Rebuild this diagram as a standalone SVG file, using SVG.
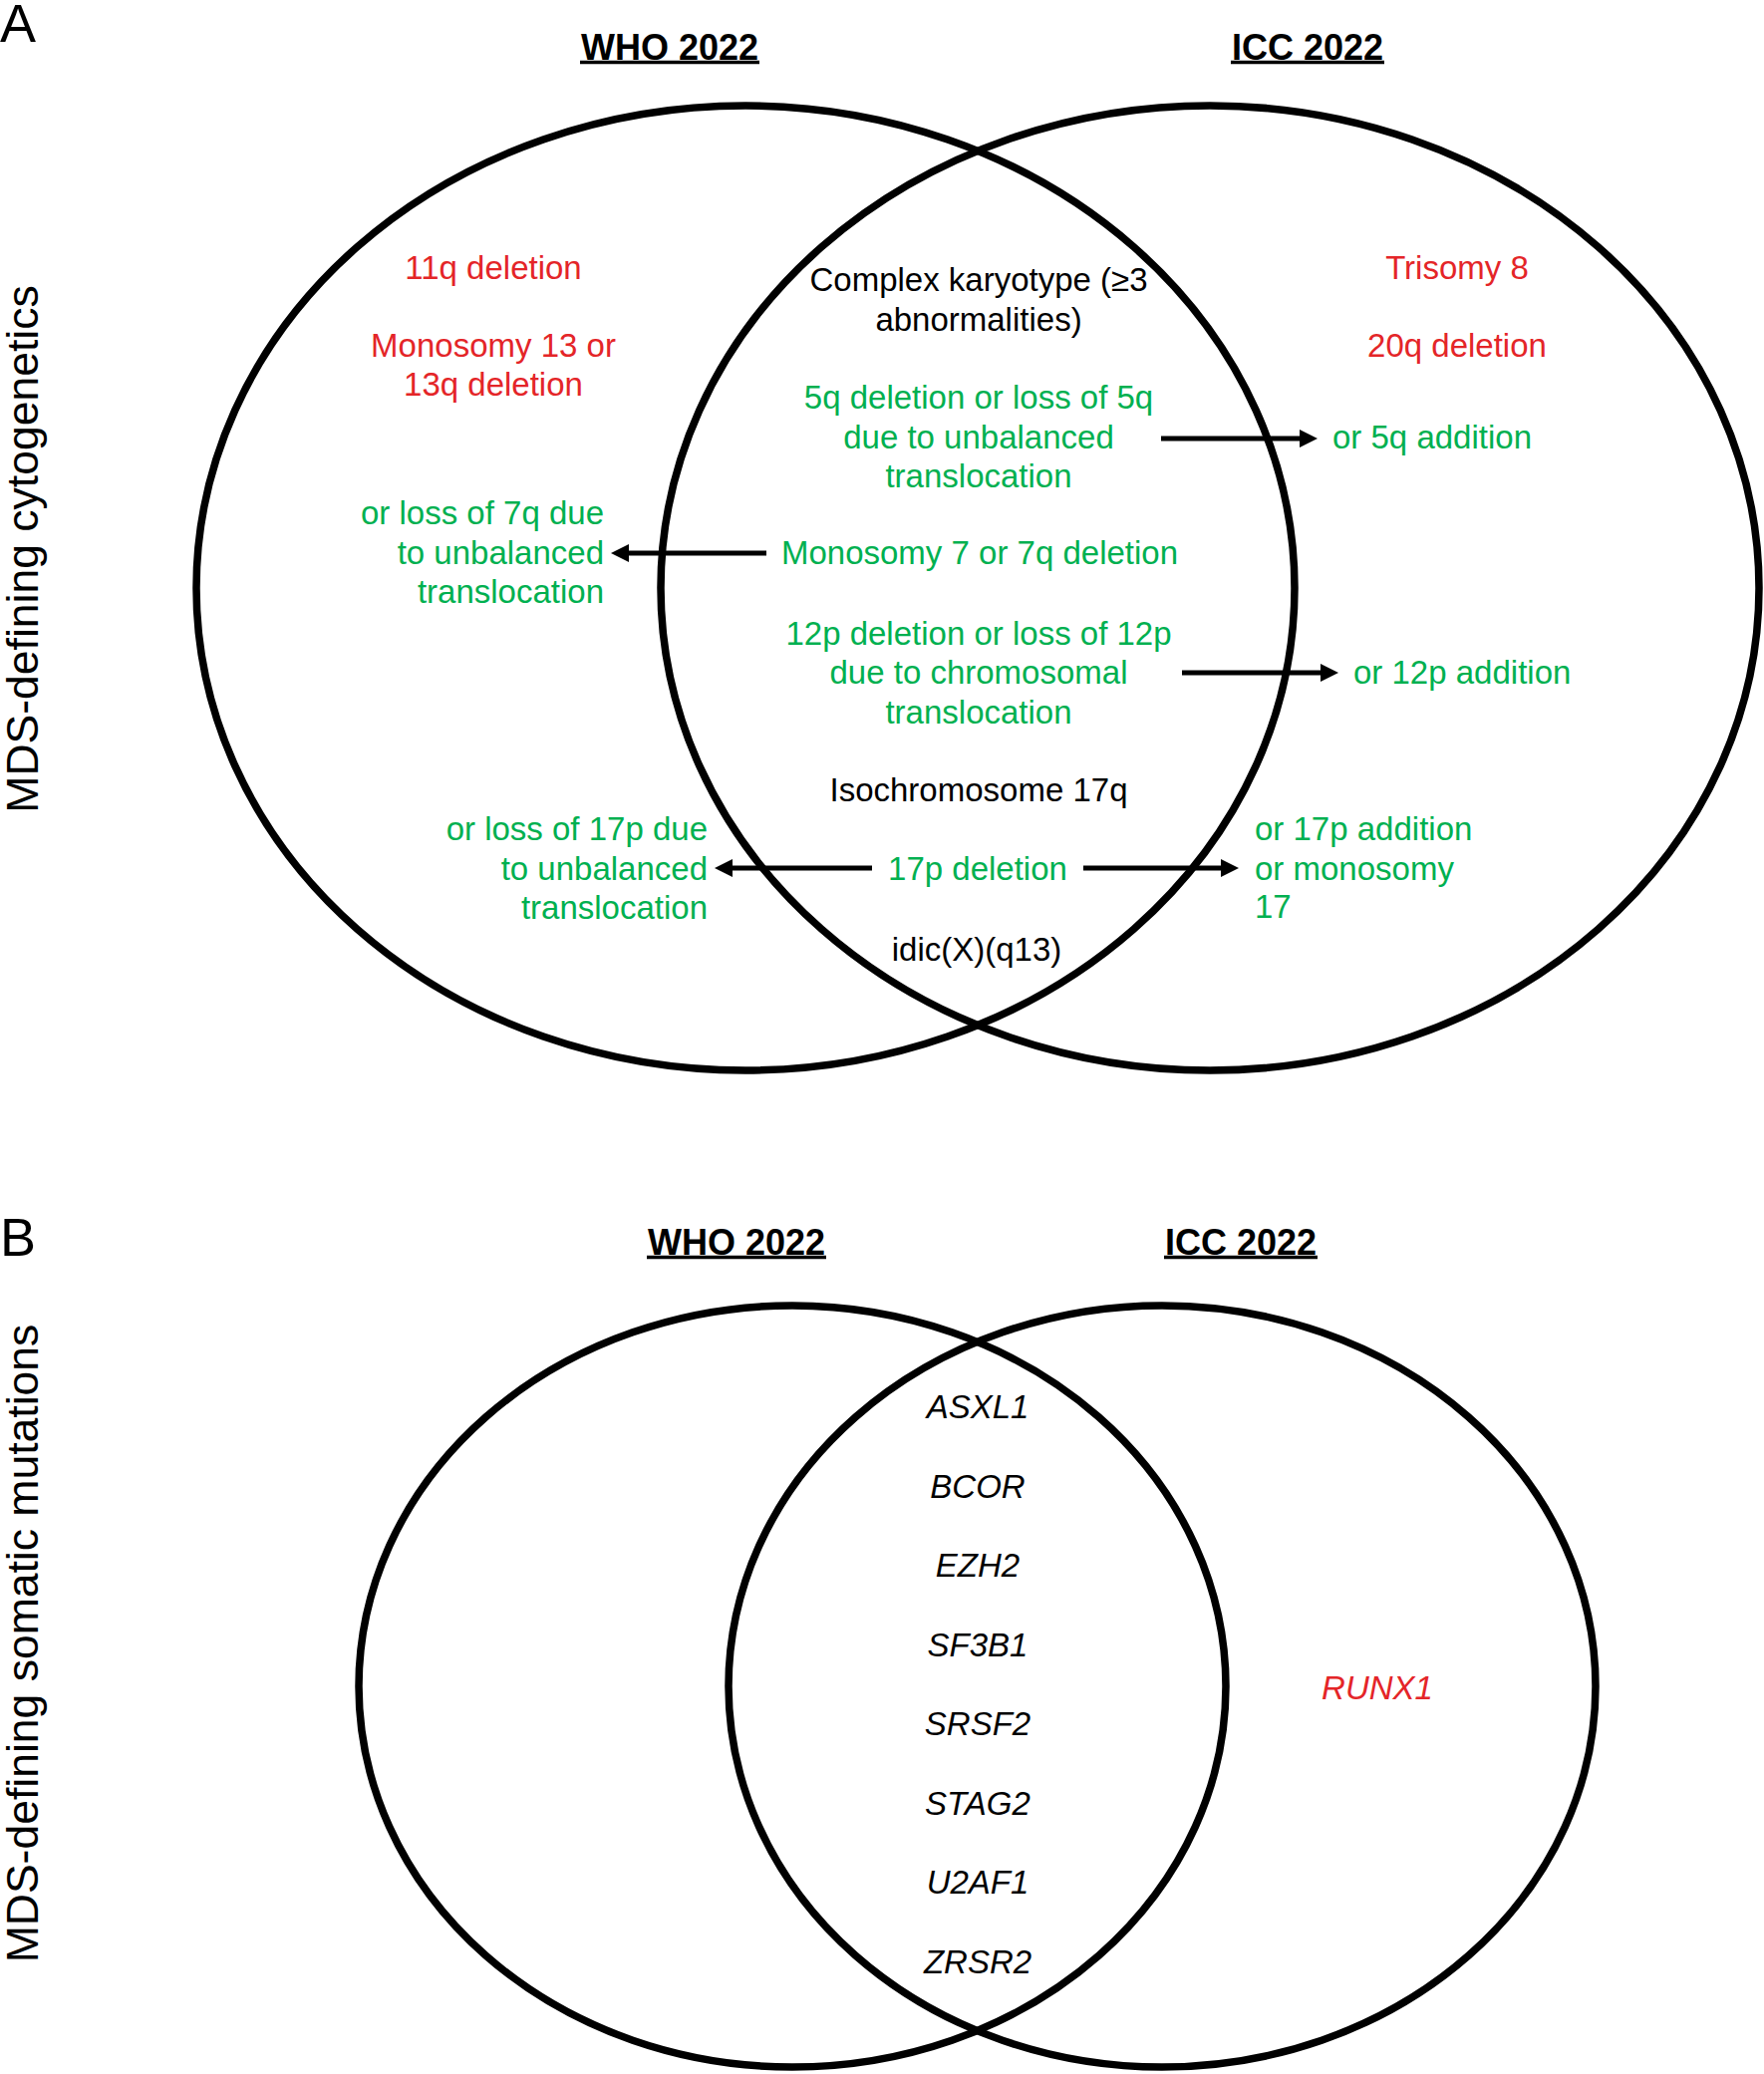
<svg xmlns="http://www.w3.org/2000/svg" width="1770" height="2081" viewBox="0 0 1770 2081">
<style>
text{font-family:"Liberation Sans",Arial,sans-serif;font-size:33px;}
.c{text-anchor:middle}
.r{text-anchor:end}
.l{text-anchor:start}
.red{fill:#E42528}
.grn{fill:#00B050}
.blk{fill:#000}
.it{font-style:italic}
.ttl{font-weight:bold;font-size:36px;text-anchor:middle}
.ul{stroke:#000;stroke-width:3.5}
.lbl{font-size:44.5px;text-anchor:middle}
.pl{font-size:54px}
.venn{fill:none;stroke:#000;stroke-width:7.5}
.arr{stroke:#000;stroke-width:5;fill:none;marker-end:url(#ah)}
</style>
<defs>
<marker id="ah" markerUnits="userSpaceOnUse" markerWidth="18" markerHeight="18" refX="8" refY="9" orient="auto">
<path d="M0,0 L18,9 L0,18 z" fill="#000"/>
</marker>
</defs>
<rect width="1770" height="2081" fill="#fff"/>

<g id="panelA-labels">
<text class="pl" x="0" y="42">A</text>
<text class="lbl" transform="translate(38,551) rotate(-90)">MDS-defining cytogenetics</text>
</g>

<g id="A-who">
<ellipse class="venn" cx="748" cy="590" rx="551" ry="484"/>
<text class="ttl" x="672" y="60">WHO 2022</text>
<line class="ul" x1="582" y1="62.5" x2="762" y2="62.5"/>
</g>
<g id="A-icc">
<ellipse class="venn" cx="1214" cy="590" rx="551" ry="484"/>
<text class="ttl" x="1312" y="60">ICC 2022</text>
<line class="ul" x1="1235" y1="62.5" x2="1389" y2="62.5"/>
</g>

<g id="A-who-only">
<text class="c red" x="495" y="280">11q deletion</text>
<text class="c red" x="495" y="358">Monosomy 13 or</text>
<text class="c red" x="495" y="397">13q deletion</text>
</g>
<g id="A-icc-only">
<text class="c red" x="1462" y="280">Trisomy 8</text>
<text class="c red" x="1462" y="358">20q deletion</text>
</g>

<g id="A-complex"><text class="c blk" x="982" y="292">Complex karyotype (≥3</text><text class="c blk" x="982" y="332">abnormalities)</text></g>
<g id="A-5q"><text class="c grn" x="982" y="410">5q deletion or loss of 5q</text><text class="c grn" x="982" y="450">due to unbalanced</text><text class="c grn" x="982" y="489">translocation</text></g>
<g id="A-5q-add"><text class="l grn" x="1337" y="450">or 5q addition</text></g>
<g id="A-mono7"><text class="c grn" x="983" y="566">Monosomy 7 or 7q deletion</text></g>
<g id="A-7q-loss"><text class="r grn" x="606" y="526">or loss of 7q due</text><text class="r grn" x="606" y="566">to unbalanced</text><text class="r grn" x="606" y="605">translocation</text></g>
<g id="A-12p"><text class="c grn" x="982" y="647">12p deletion or loss of 12p</text><text class="c grn" x="982" y="686">due to chromosomal</text><text class="c grn" x="982" y="726">translocation</text></g>
<g id="A-12p-add"><text class="l grn" x="1358" y="686">or 12p addition</text></g>
<g id="A-iso17q"><text class="c blk" x="982" y="804">Isochromosome 17q</text></g>
<g id="A-17p"><text class="c grn" x="981" y="883">17p deletion</text></g>
<g id="A-17p-loss"><text class="r grn" x="710" y="843">or loss of 17p due</text><text class="r grn" x="710" y="883">to unbalanced</text><text class="r grn" x="710" y="922">translocation</text></g>
<g id="A-17p-add"><text class="l grn" x="1259" y="843">or 17p addition</text><text class="l grn" x="1259" y="883">or monosomy</text><text class="l grn" x="1259" y="921">17</text></g>
<g id="A-idic"><text class="c blk" x="980" y="964">idic(X)(q13)</text></g>

<g id="connectors">
<line class="arr" x1="1165" y1="440" x2="1312" y2="440"/>
<line class="arr" x1="769" y1="555" x2="623" y2="555"/>
<line class="arr" x1="1186" y1="675" x2="1333" y2="675"/>
<line class="arr" x1="1087" y1="871" x2="1233" y2="871"/>
<line class="arr" x1="875" y1="871" x2="727" y2="871"/>
</g>

<g id="panelB-labels">
<text class="pl" x="0" y="1260">B</text>
<text class="lbl" transform="translate(38,1649) rotate(-90)">MDS-defining somatic mutations</text>
</g>
<g id="B-who">
<ellipse class="venn" cx="795" cy="1692" rx="435" ry="382"/>
<text class="ttl" x="739" y="1259">WHO 2022</text>
<line class="ul" x1="649" y1="1261.5" x2="829" y2="1261.5"/>
</g>
<g id="B-icc">
<ellipse class="venn" cx="1166" cy="1692" rx="435" ry="382"/>
<text class="ttl" x="1245" y="1259">ICC 2022</text>
<line class="ul" x1="1168" y1="1261.5" x2="1322" y2="1261.5"/>
</g>
<g id="B-shared">
<text class="c blk it" x="981" y="1423">ASXL1</text>
<text class="c blk it" x="981" y="1503">BCOR</text>
<text class="c blk it" x="981" y="1582">EZH2</text>
<text class="c blk it" x="981" y="1662">SF3B1</text>
<text class="c blk it" x="981" y="1741">SRSF2</text>
<text class="c blk it" x="981" y="1821">STAG2</text>
<text class="c blk it" x="981" y="1900">U2AF1</text>
<text class="c blk it" x="981" y="1980">ZRSR2</text>
</g>
<g id="B-icc-only"><text class="c red it" x="1382" y="1705">RUNX1</text></g>
</svg>
